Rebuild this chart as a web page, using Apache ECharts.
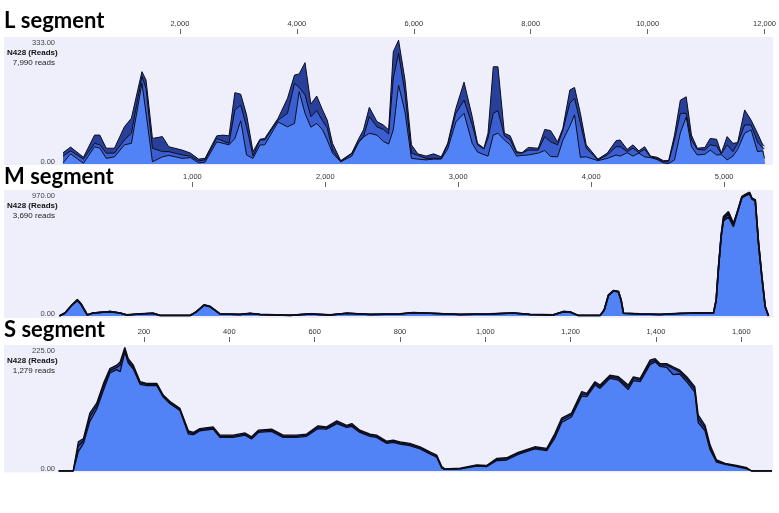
<!DOCTYPE html>
<html>
<head>
<meta charset="utf-8">
<script src="https://cdn.jsdelivr.net/npm/echarts@6/dist/echarts.min.js"></script>
<style>
html,body{margin:0;padding:0;background:#fff;}
#chart{width:779px;height:513px;}
</style>
</head>
<body>
<div id="chart"></div>
<script>
// ---------------- DATA ----------------
const titles = ['L segment', 'M segment', 'S segment'];
const sampleName = 'N428 (Reads)';
const readTotals = ['7,990 reads', '3,690 reads', '1,279 reads'];
const yMaxes = [333, 970, 225];
const xMaxes = [12000, 5360, 1672];
const ticksL = [2000, 4000, 6000, 8000, 10000, 12000];
const ticksM = [1000, 2000, 3000, 4000, 5000];
const ticksS = [200, 400, 600, 800, 1000, 1200, 1400, 1600];

const posL = [0,130,350,540,630,740,880,1050,1170,1350,1420,1530,1700,1810,2040,2180,2320,2430,2630,2740,2840,2940,3040,3140,3250,3370,3450,3680,3840,3960,4040,4140,4240,4340,4440,4520,4610,4750,4940,5060,5140,5240,5370,5480,5570,5650,5740,5850,5960,6070,6210,6340,6470,6580,6720,6860,7000,7090,7200,7270,7360,7440,7550,7650,7760,7850,7960,8130,8240,8340,8460,8550,8670,8750,8850,8950,9150,9310,9460,9530,9650,9750,9850,9950,10050,10160,10270,10360,10460,10560,10660,10750,10850,10980,11070,11180,11260,11360,11460,11540,11660,11770,11880,11970,12000];
const darkL = [30,45,18,77,77,42,42,99,122,246,224,68,73,46,37,29,13,15,75,77,75,190,186,131,33,66,68,122,175,237,240,270,160,181,144,117,55,9,29,68,91,151,113,104,91,299,330,224,51,27,21,27,19,55,148,218,126,55,42,82,259,259,82,75,33,30,44,42,92,89,59,95,197,204,135,51,13,29,62,64,39,51,35,46,21,18,9,9,77,170,179,77,42,44,68,66,29,73,55,57,144,117,82,51,48];
const medL = [21,35,13,55,51,29,29,64,82,233,202,42,33,33,24,21,8,11,68,61,55,144,157,99,21,64,64,117,135,215,204,184,126,142,115,96,37,6,27,59,73,126,99,92,80,229,295,188,29,23,15,15,15,51,135,170,104,51,40,69,135,142,75,64,29,29,37,37,73,59,51,90,162,175,108,42,11,24,46,46,33,42,30,39,19,15,6,6,64,135,135,64,39,37,51,48,27,51,33,55,104,104,59,42,42];
const lightL = [3,27,2,46,42,15,19,51,55,215,136,6,19,23,15,17,3,5,59,55,51,68,115,24,15,51,51,112,99,108,193,135,98,108,91,64,29,6,21,58,72,82,77,60,53,91,210,139,15,13,11,13,13,40,112,135,55,32,25,21,77,82,64,51,21,23,24,29,36,20,19,63,101,131,18,19,9,15,24,21,30,21,29,19,17,12,3,1,11,83,125,46,24,26,37,24,25,11,21,39,82,91,33,35,15];

const posM = [0,42,95,135,163,210,253,381,456,506,606,704,757,983,1028,1088,1133,1208,1359,1434,1509,1735,1885,2036,2162,2337,2563,2660,2788,3014,3239,3413,3540,3714,3791,3842,3902,4067,4098,4130,4168,4205,4225,4243,4368,4519,4669,4795,4920,4940,4958,4978,4995,5033,5070,5096,5134,5159,5191,5209,5234,5259,5284,5309,5334];
const darkM = [0,24,88,128,96,9,24,35,24,9,17,22,5,5,32,88,76,17,13,21,13,6,17,9,22,13,17,27,22,13,17,24,13,9,35,32,5,5,49,166,200,193,128,22,17,13,21,24,24,128,390,636,777,816,725,806,936,950,968,922,910,572,310,75,0];
const medM = [0,23,86,124,93,8,23,34,23,8,16,21,4,4,31,86,74,16,12,20,12,5,16,8,21,12,16,26,21,12,16,23,12,8,34,31,4,4,47,163,197,190,125,21,16,12,20,23,23,124,384,630,760,800,715,800,930,944,962,918,905,566,305,72,0];
const lightM = [0,23,86,120,90,8,23,34,23,8,16,21,4,4,31,84,72,16,12,20,12,5,16,8,21,12,16,26,21,12,16,23,12,8,34,31,4,4,45,160,195,188,122,21,16,12,20,23,23,120,380,625,745,775,700,795,925,940,955,915,900,560,300,70,0];

const posS = [0,34,46,58,73,89,105,120,136,144,155,163,175,191,206,230,245,261,284,304,316,331,362,378,409,437,452,468,499,526,558,581,608,628,652,675,687,706,730,745,769,784,800,823,847,870,886,898,905,941,980,1003,1027,1050,1077,1116,1144,1163,1179,1202,1226,1238,1257,1269,1292,1312,1335,1347,1363,1386,1398,1409,1425,1440,1456,1472,1491,1499,1515,1527,1542,1562,1589,1613,1624,1672];
const darkS = [0,0,53,59,105,123,159,186,192,198,224,204,192,162,159,159,138,126,114,73,70,77,80,65,65,69,62,74,76,65,65,67,82,80,91,83,86,74,67,65,54,56,53,50,44,35,29,8,4,5,11,10,23,24,34,44,41,68,96,105,144,141,162,156,174,171,156,171,168,201,204,195,195,189,183,171,153,102,83,47,20,14,10,6,0,0];
const medS = [0,0,45,55,98,118,153,182,188,192,220,200,188,160,157,157,136,124,112,70,68,75,78,63,63,67,60,72,74,63,63,65,80,78,88,81,83,72,65,63,52,54,51,48,42,33,27,6,3,4,10,9,21,22,32,42,39,64,92,102,140,138,159,153,171,168,152,168,165,197,201,192,192,186,180,167,148,95,78,42,18,13,9,5,0,0];
const lightS = [0,0,35,50,90,112,147,178,184,180,216,196,185,157,155,155,134,122,110,67,66,73,76,61,61,65,58,70,72,61,61,63,77,76,86,79,81,70,63,61,50,52,49,46,40,31,25,5,3,4,9,8,19,20,30,40,37,60,88,98,136,135,156,150,168,165,148,164,162,193,198,190,188,175,176,162,143,88,73,38,16,12,8,4,0,0];

// ---------------- LAYOUT / STYLE ----------------
const panels = [
  {pos: posL, series: [darkL, medL, lightL], ticks: ticksL, grid: {left: 63, right: 7, top: 39, height: 125}, bg: [37, 165], title: 21, lineW: 1},
  {pos: posM, series: [darkM, medM, lightM], ticks: ticksM, grid: {left: 59.4, right: 7, top: 192, height: 124}, bg: [190, 318], title: 176.5, lineW: 1.6},
  {pos: posS, series: [darkS, medS, lightS], ticks: ticksS, grid: {left: 58.7, right: 7, top: 347, height: 124}, bg: [345, 472.5], title: 330, lineW: 1.3}
];
const fills = ['#29409a', '#3b5fd0', '#5283f6'];
const bgColor = '#efeffb';
const fmt = v => v.toLocaleString('en-US');

const grids = [], xAxes = [], yAxes = [], series = [], graphics = [];
panels.forEach((p, i) => {
  grids.push(Object.assign({containLabel: false}, p.grid));
  xAxes.push({
    gridIndex: i, type: 'value', position: 'top', min: 0, max: xMaxes[i], offset: 5,
    axisLine: {show: false, onZero: false}, splitLine: {show: false},
    axisTick: {show: true, length: 5, customValues: p.ticks, lineStyle: {color: '#666', width: 1}},
    axisLabel: {customValues: p.ticks, formatter: fmt, fontSize: 7.5, color: '#333', margin: 6, fontFamily: 'Liberation Sans'}
  });
  yAxes.push({gridIndex: i, type: 'value', min: 0, max: yMaxes[i], show: false, axisLine: {onZero: false}});
  p.series.forEach((vals, k) => {
    series.push({
      type: 'line', xAxisIndex: i, yAxisIndex: i, symbol: 'none', smooth: false, silent: true,
      data: p.pos.map((x, j) => [x, vals[j]]),
      lineStyle: {color: '#0d0d1a', width: p.lineW},
      areaStyle: {color: fills[k], opacity: 1}
    });
  });
  const gTop = p.grid.top, gBot = p.grid.top + p.grid.height;
  graphics.push({type: 'rect', z: -10, shape: {x: 4, y: p.bg[0], width: 769, height: p.bg[1] - p.bg[0]}, style: {fill: bgColor}});
  graphics.push({type: 'text', x: 4, y: p.title, style: {text: titles[i], font: 'bold 22px Lato', fill: '#000', verticalAlign: 'middle', align: 'left'}});
  graphics.push({type: 'text', x: 55, y: gTop + 3.5, style: {text: yMaxes[i].toFixed(2), font: '7.5px "Liberation Sans"', fill: '#444', align: 'right', verticalAlign: 'middle'}});
  graphics.push({type: 'text', x: 7, y: gTop + 13.5, style: {text: sampleName, font: 'bold 8px "Liberation Sans"', fill: '#111', align: 'left', verticalAlign: 'middle'}});
  graphics.push({type: 'text', x: 55, y: gTop + 23.5, style: {text: readTotals[i], font: '8px "Liberation Sans"', fill: '#222', align: 'right', verticalAlign: 'middle'}});
  graphics.push({type: 'text', x: 55, y: gBot - 2.5, style: {text: (0).toFixed(2), font: '7.5px "Liberation Sans"', fill: '#444', align: 'right', verticalAlign: 'middle'}});
});

const chart = echarts.init(document.getElementById('chart'), null, {renderer: 'canvas'});
chart.setOption({
  animation: false,
  backgroundColor: '#ffffff',
  grid: grids, xAxis: xAxes, yAxis: yAxes, series: series,
  graphic: {elements: graphics}
});
</script>
</body>
</html>
